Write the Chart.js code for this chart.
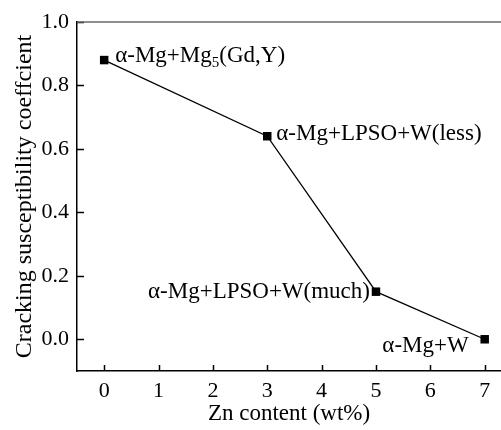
<!DOCTYPE html>
<html>
<head>
<meta charset="utf-8">
<script src="https://cdn.jsdelivr.net/npm/chart.js@4"></script>
<style>
    html, body { margin: 0; padding: 0; background: #fff; overflow: hidden; }
    canvas { display: block; }
</style>
</head>
<body>
<canvas id="crack-chart" width="501" height="430"></canvas>
<script>
// Zn content vs cracking susceptibility
const znContent = [0, 3, 5, 7];
const crackCoef = [0.88, 0.64, 0.15, 0.0];
// phase labels, odd entries are subscripts
const phaseLabels = [
    ["α-Mg+Mg", "5", "(Gd,Y)"],
    ["α-Mg+LPSO+W(less)"],
    ["α-Mg+LPSO+W(much)"],
    ["α-Mg+W"]
];
const xTicks = [0, 1, 2, 3, 4, 5, 6, 7];
const yTicks = [0.0, 0.2, 0.4, 0.6, 0.8, 1.0];

const serif = "'Liberation Serif', 'Times New Roman', serif";

// where each phase label sits relative to its point
const labelPlace = [
    { align: "left", dx: 11, dy: 2 },
    { align: "left", dx: 9, dy: 4 },
    { align: "right", dx: -6, dy: 6 },
    { align: "right", dx: -16, dy: 13 }
];

// inward tick marks and the top frame line
const frameTicks = {
    id: "frameTicks",
    afterDraw(chart) {
        const ctx = chart.ctx;
        const area = chart.chartArea;
        const xs = chart.scales.x;
        const ys = chart.scales.y;
        ctx.save();
        ctx.strokeStyle = "#000";
        ctx.lineWidth = 1.5;
        ctx.beginPath();
        xs.ticks.forEach(t => {
            const px = Math.round(xs.getPixelForValue(t.value)) + 0.5;
            ctx.moveTo(px, area.bottom);
            ctx.lineTo(px, area.bottom - 6);
        });
        ys.ticks.forEach(t => {
            const py = Math.round(ys.getPixelForValue(t.value)) + 0.5;
            ctx.moveTo(area.left, py);
            ctx.lineTo(area.left + 7, py);
        });
        ctx.stroke();
        ctx.strokeStyle = "#6a6a6a";
        ctx.beginPath();
        ctx.moveTo(area.left, area.top);
        ctx.lineTo(area.right, area.top);
        ctx.stroke();
        ctx.restore();
    }
};

// phase names next to the points
const phaseText = {
    id: "phaseText",
    afterDatasetsDraw(chart) {
        const ctx = chart.ctx;
        const xs = chart.scales.x;
        const ys = chart.scales.y;
        const mainFont = "23px " + serif;
        const subFont = "15px " + serif;
        ctx.save();
        ctx.fillStyle = "#000";
        ctx.textBaseline = "alphabetic";
        ctx.textAlign = "left";
        phaseLabels.forEach((parts, i) => {
            const place = labelPlace[i];
            const px = xs.getPixelForValue(znContent[i]);
            const py = ys.getPixelForValue(crackCoef[i]);
            let total = 0;
            parts.forEach((p, k) => {
                ctx.font = k % 2 ? subFont : mainFont;
                total += ctx.measureText(p).width;
            });
            let x = place.align === "left" ? px + place.dx : px + place.dx - total;
            const y = py + place.dy;
            parts.forEach((p, k) => {
                ctx.font = k % 2 ? subFont : mainFont;
                ctx.fillText(p, x, k % 2 ? y + 5 : y);
                x += ctx.measureText(p).width;
            });
        });
        ctx.restore();
    }
};

new Chart(document.getElementById("crack-chart"), {
    type: "scatter",
    data: {
        datasets: [{
            data: znContent.map((x, i) => ({ x: x, y: crackCoef[i] })),
            showLine: true,
            borderColor: "#000",
            borderWidth: 1.3,
            pointStyle: "rect",
            pointRadius: 6,
            pointBackgroundColor: "#000",
            pointBorderWidth: 0
        }]
    },
    options: {
        responsive: false,
        animation: false,
        layout: {
            autoPadding: false,
            padding: { left: 13, top: 22, right: 0, bottom: 5 }
        },
        scales: {
            x: {
                type: "linear",
                min: -0.5,
                max: 7.3,
                afterBuildTicks: s => { s.ticks = xTicks.map(v => ({ value: v })); },
                afterFit: s => {
                    s.height = 54;
                    s.paddingLeft = 0;
                    s.paddingRight = 0;
                },
                grid: { display: false, drawTicks: false },
                border: { display: true, color: "#000", width: 1.5 },
                ticks: {
                    padding: 7,
                    color: "#000",
                    font: { family: serif, size: 22 },
                    callback: v => String(v)
                },
                title: {
                    display: true,
                    text: "Zn content (wt%)",
                    color: "#000",
                    font: { family: serif, size: 23, lineHeight: 1 },
                    padding: { top: 0, bottom: 0 }
                }
            },
            y: {
                min: -0.1,
                max: 1.0,
                afterBuildTicks: s => { s.ticks = yTicks.map(v => ({ value: v })); },
                afterFit: s => { s.width = 64; },
                grid: { display: false, drawTicks: false },
                border: { display: true, color: "#000", width: 1.5 },
                ticks: {
                    padding: 8,
                    color: "#000",
                    font: { family: serif, size: 22 },
                    callback: v => v.toFixed(1)
                },
                title: {
                    display: true,
                    text: "Cracking susceptibility coeffcient",
                    color: "#000",
                    font: { family: serif, size: 24, lineHeight: 1 },
                    padding: { top: 0, bottom: 0 }
                }
            }
        },
        plugins: {
            legend: { display: false },
            tooltip: { enabled: false }
        }
    },
    plugins: [frameTicks, phaseText]
});
</script>
</body>
</html>
